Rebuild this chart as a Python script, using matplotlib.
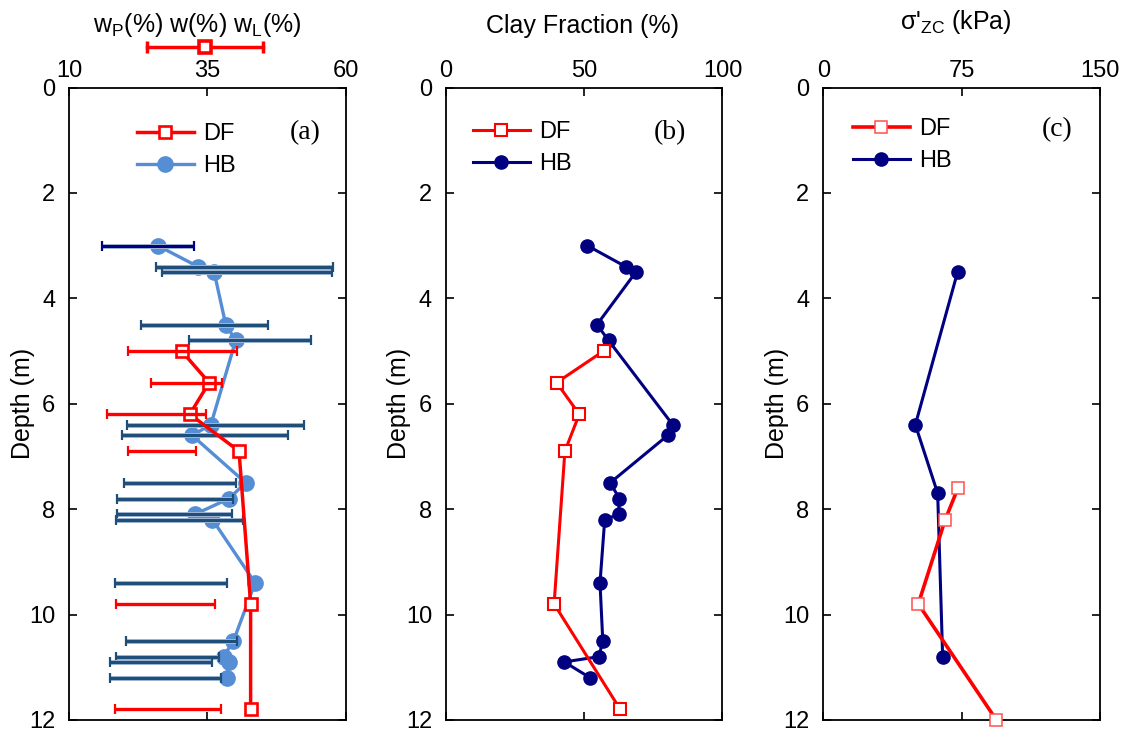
import matplotlib
matplotlib.use("Agg")
import matplotlib.pyplot as plt
import matplotlib.transforms as mtransforms
import matplotlib.patheffects as pe
import numpy as np

plt.rcParams['font.family'] = ['Liberation Sans', 'DejaVu Sans']
plt.rcParams['mathtext.fontset'] = 'custom'
plt.rcParams['mathtext.rm'] = 'Liberation Sans'
plt.rcParams['mathtext.it'] = 'Liberation Sans:italic'

# (a) water content, plastic limit, liquid limit (%)
hb_depth = [3.0, 3.4, 3.5, 4.5, 4.8, 6.4, 6.6, 7.5, 7.8, 8.1, 8.2, 9.4, 10.5, 10.8, 10.9, 11.2]
hb_w = [26.0, 33.3, 36.2, 38.3, 40.1, 35.6, 32.2, 41.9, 38.9, 32.7, 35.9, 43.6, 39.7, 37.9, 38.8, 38.6]
hb_wp = [16.0, 25.7, 26.8, 22.9, 31.6, 20.5, 19.5, 19.9, 18.6, 18.7, 18.4, 18.2, 20.2, 18.5, 17.4, 17.3]
hb_wl = [32.6, 57.7, 57.5, 46.0, 53.8, 52.4, 49.5, 40.1, 39.6, 39.5, 41.4, 38.6, 40.4, 37.1, 35.9, 37.4]

df_depth = [5.0, 5.6, 6.2, 6.9, 9.8, 11.8]
df_w = [30.3, 35.3, 31.8, 40.7, 42.8, 42.8]
df_wp = [20.7, 24.7, 16.9, 20.7, 18.5, 18.3]
df_wl = [40.4, 37.7, 34.7, 33.0, 36.4, 37.5]

# header key for (a): wP, w, wL
key_vals = [24.0, 34.5, 45.1]

# (b) clay fraction (%)
hb_clay = [51.1, 65.0, 68.7, 54.6, 58.8, 82.0, 80.2, 59.4, 62.7, 62.4, 57.4, 55.7, 56.7, 55.3, 42.8, 52.1]
df_clay = [57.0, 40.0, 48.2, 43.0, 39.1, 63.0]

# (c) preconsolidation stress (kPa)
hb_sig_depth = [3.5, 6.4, 7.7, 10.8]
hb_sig = [72.8, 49.9, 62.0, 64.7]
df_sig_depth = [7.6, 8.2, 9.8, 12.0]
df_sig = [73.0, 66.1, 51.5, 93.8]

RED = '#FF0000'
LBLUE = '#558ED5'
BARBLUE = '#1F4E79'
NAVY = '#000080'

fig = plt.figure(figsize=(11.27, 7.32), dpi=100)
W, H = 1127, 732
bot = 12.1 / H
hgt = 632.4 / H
ax_a = fig.add_axes([69.3 / W, bot, 276.4 / W, hgt])
ax_b = fig.add_axes([446.0 / W, bot, 276.5 / W, hgt])
ax_c = fig.add_axes([823.3 / W, bot, 276.7 / W, hgt])


def style(ax, xlim, xticks):
    ax.set_xlim(*xlim)
    ax.set_ylim(12, 0)
    ax.set_xticks(xticks)
    ax.set_yticks(np.arange(0, 13, 2))
    ax.xaxis.tick_top()
    ax.tick_params(axis='x', which='both', direction='in', top=True, bottom=True,
                   labeltop=True, labelbottom=False, labelsize=17, pad=4,
                   length=6, width=1.2)
    ax.tick_params(axis='y', direction='in', left=True, right=True,
                   labelsize=17, pad=10, length=6, width=1.2)
    for s in ax.spines.values():
        s.set_linewidth(1.3)
    ax.set_ylabel('Depth (m)', fontsize=18)
    ax.yaxis.set_label_coords(-0.125, 0.5)


def add_legend(ax, handles, labels, x, y):
    ax.legend(handles, labels, loc='upper left', bbox_to_anchor=(x, y), frameon=False,
              fontsize=17, borderpad=0, borderaxespad=0, handlelength=2.4,
              handletextpad=0.4, labelspacing=0.42)


# ---- (a)
style(ax_a, (10, 60), [10, 35, 60])
ax_a.plot(hb_w, hb_depth, color=LBLUE, lw=2.4, marker='o', ms=11, zorder=2, label='HB')
hb_mid = (np.array(hb_wp) + np.array(hb_wl)) / 2
hb_half = (np.array(hb_wl) - np.array(hb_wp)) / 2
bar_cols = [NAVY] + [BARBLUE] * (len(hb_depth) - 1)
for m, h, d, c in zip(hb_mid, hb_half, hb_depth, bar_cols):
    eb = ax_a.errorbar(m, d, xerr=h, fmt='none', ecolor=c, elinewidth=2.2,
                       capsize=3.5, capthick=1.6, zorder=3)
    for art in eb.lines[2]:
        art.set_path_effects([pe.withStroke(linewidth=3.6, foreground='#9FB6D3')])
ax_a.plot(df_w, df_depth, color=RED, lw=2.5, marker='s', ms=8.5, mfc='white',
          mec=RED, mew=1.9, zorder=4, label='DF')
df_mid = (np.array(df_wp) + np.array(df_wl)) / 2
df_half = (np.array(df_wl) - np.array(df_wp)) / 2
ax_a.errorbar(df_mid, df_depth, xerr=df_half, fmt='none', ecolor=RED, elinewidth=2.4,
              capsize=3.5, capthick=1.6, zorder=5)

# header key above (a)
trans = mtransforms.blended_transform_factory(ax_a.transData, ax_a.transAxes)
ky = 1.064
ax_a.plot([key_vals[0], key_vals[2]], [ky, ky], transform=trans, color=RED, lw=2.5,
          marker='|', ms=9, mew=2.5, clip_on=False)
ax_a.plot([key_vals[1]], [ky], transform=trans, color=RED, marker='s', ms=9,
          mfc='white', mec=RED, mew=2.6, clip_on=False)
fig.text(197 / W, 1 - 31.7 / H, r'w$_\mathregular{P}$(%) w(%) w$_\mathregular{L}$(%)',
         ha='center', va='baseline', fontsize=18)

h, l = ax_a.get_legend_handles_labels()
add_legend(ax_a, h[::-1], l[::-1], 0.245, 0.944)
ax_a.text(0.853, 0.928, '(a)', transform=ax_a.transAxes, ha='center', va='center',
          fontsize=20, family='Liberation Serif')

# ---- (b)
style(ax_b, (0, 100), [0, 50, 100])
ax_b.plot(df_clay, df_depth, color=RED, lw=2.2, marker='s', ms=8.5, mfc='white',
          mec=RED, mew=1.5, zorder=3, label='DF')
ax_b.plot(hb_clay, hb_depth, color=NAVY, lw=2.2, marker='o', ms=9.5, zorder=2, label='HB')
fig.text(583 / W, 1 - 33 / H, 'Clay Fraction (%)', ha='center', va='baseline', fontsize=18)
h, l = ax_b.get_legend_handles_labels()
add_legend(ax_b, h, l, 0.098, 0.947)
ax_b.text(0.81, 0.928, '(b)', transform=ax_b.transAxes, ha='center', va='center',
          fontsize=20, family='Liberation Serif')

# ---- (c)
style(ax_c, (0, 150), [0, 75, 150])
ax_c.plot(df_sig, df_sig_depth, color=RED, lw=2.6, marker='s', ms=8, mfc='white',
          mec='#FF5050', mew=1.1, zorder=3, label='DF', clip_on=False)
ax_c.plot(hb_sig, hb_sig_depth, color=NAVY, lw=2.2, marker='o', ms=9.5, zorder=2, label='HB')
fig.text(956 / W, 1 - 29.5 / H, r"σ'$_\mathregular{ZC}$ (kPa)", ha='center', va='baseline',
         fontsize=18)
h, l = ax_c.get_legend_handles_labels()
add_legend(ax_c, h, l, 0.107, 0.952)
ax_c.text(0.845, 0.933, '(c)', transform=ax_c.transAxes, ha='center', va='center',
          fontsize=20, family='Liberation Serif')

fig.savefig('out.png', dpi=100)
